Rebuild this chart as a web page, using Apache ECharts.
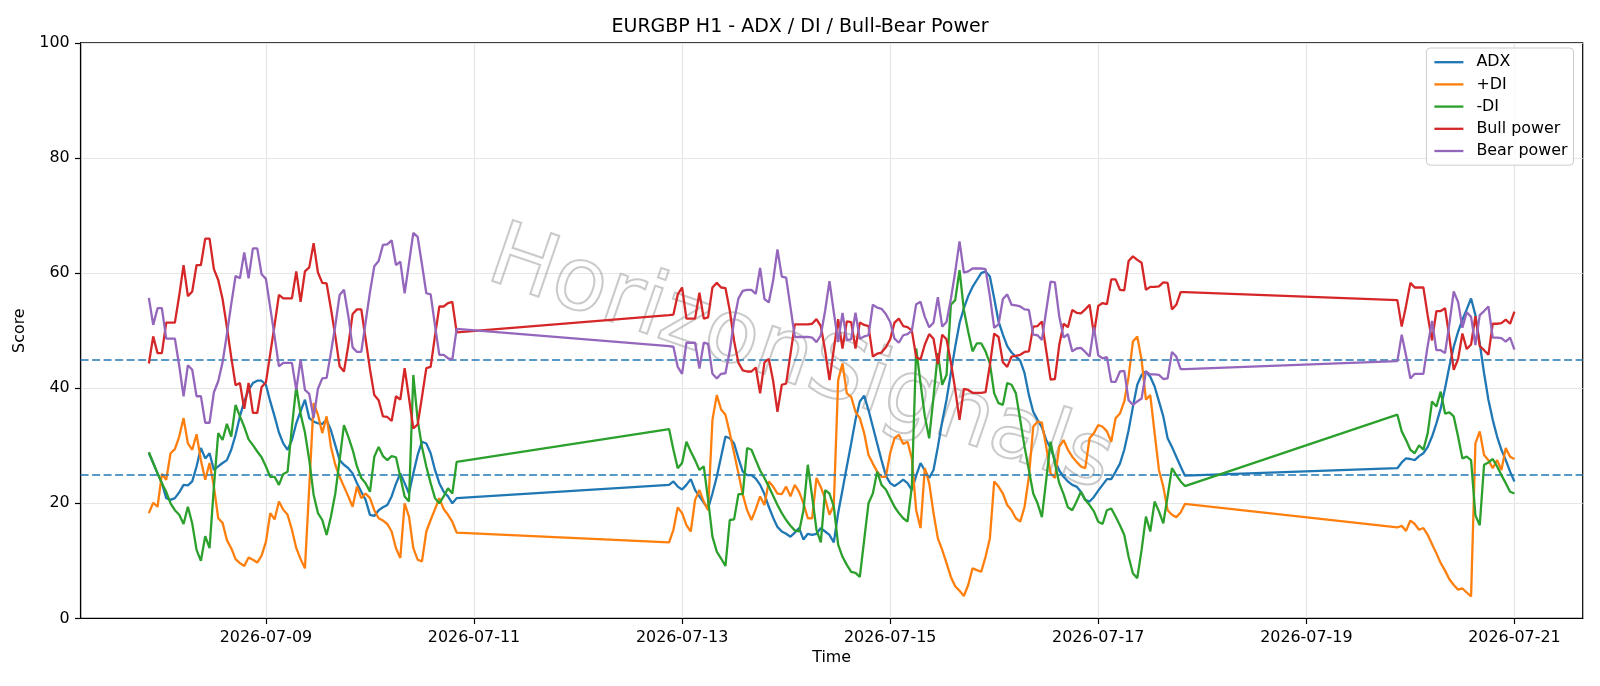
<!DOCTYPE html>
<html><head><meta charset="utf-8">
<script src="https://cdn.jsdelivr.net/npm/echarts@6/dist/echarts.min.js"></script>
<style>html,body{margin:0;padding:0;background:#fff}#c{width:1600px;height:686px}</style>
</head><body><div id="c"></div>
<script>
// x positions are hours counted from 2026-07-09 00:00
const tickValues = [0, 48, 96, 144, 192, 240, 288];
const tickLabels = ['2026-07-09', '2026-07-11', '2026-07-13', '2026-07-15', '2026-07-17', '2026-07-19', '2026-07-21'];
const segmentStarts = [-27, 93, 261];   // 07-07 21:00, 07-12 21:00, 07-19 21:00
const segmentLengths = [72, 120, 28];   // hourly bars in each trading block

const adx = [
28.7,27.0,25.2,23.5,20.9,20.6,20.9,21.9,23.2,23.1,23.8,26.4,29.6,27.8,28.7,25.8,26.4,27.0,27.5,29.3,
31.9,35.1,37.7,39.7,40.9,41.3,41.3,40.6,37.7,35.1,32.3,30.4,29.3,31.0,33.9,36.0,38.0,34.8,34.2,33.9,
33.8,34.5,32.7,30.1,27.5,26.7,26.1,25.2,23.5,22.0,20.6,18.0,17.8,18.8,19.3,19.7,21.2,23.4,25.2,23.5,
21.7,25.2,28.4,30.7,30.4,28.7,25.8,23.5,22.0,21.2,20.0,20.9,
23.2,23.8,22.9,22.4,23.2,24.2,22.3,21.2,20.1,19.1,21.7,24.6,28.1,31.6,31.3,30.4,27.8,25.5,24.9,24.9,
24.3,23.2,21.6,19.4,17.5,15.9,15.1,14.7,14.2,14.9,15.7,13.7,14.7,14.5,14.7,15.7,15.1,14.5,13.2,18.3,
22.3,26.4,30.4,34.5,37.7,38.7,36.2,33.3,30.4,27.5,24.8,23.5,23.0,23.5,24.1,23.5,22.3,24.8,27.0,25.7,
24.4,25.8,29.8,34.2,38.0,42.6,47.2,51.3,53.9,56.0,57.6,58.8,60.0,60.3,59.4,55.6,51.6,49.3,47.3,46.2,
45.5,44.8,42.6,38.8,35.9,34.5,33.2,31.0,29.6,27.5,25.7,24.6,23.8,23.2,22.9,22.0,20.6,20.3,21.1,22.2,
23.2,24.2,24.2,25.5,26.9,29.3,32.7,36.8,40.6,42.3,42.9,42.0,40.3,37.7,35.1,31.3,29.8,28.1,26.4,24.8,
26.1,27.1,27.8,27.7,27.5,28.2,28.7,29.8,31.6,33.9,36.5,40.0,43.8,47.2,49.8,51.9,53.7,55.6,52.7,47.8,
42.6,38.0,34.5,31.6,29.3,27.5,25.5,23.8
];
const plusDI = [
18.3,20.1,19.4,25.1,24.1,28.7,29.4,31.6,34.8,30.4,29.3,32.0,27.5,24.1,27.0,22.9,17.4,16.6,13.6,12.2,
10.3,9.6,9.1,10.6,10.2,9.7,10.9,13.3,18.3,17.2,20.3,18.9,18.0,15.4,12.2,10.3,8.7,22.9,37.4,35.4,
32.2,35.1,29.8,26.7,24.6,22.9,21.2,19.4,22.9,20.9,21.7,20.9,18.8,17.4,17.0,16.4,15.1,12.2,10.5,20.0,
17.7,12.2,10.2,9.9,15.1,17.1,19.0,20.9,19.0,18.0,16.8,14.9,
13.2,15.4,19.3,18.3,16.2,15.1,20.6,22.3,20.3,18.8,34.5,38.8,36.3,35.4,32.2,28.7,25.2,21.5,18.8,17.1,
19.0,21.2,19.7,23.8,22.9,21.7,21.6,22.9,21.2,23.2,22.0,20.0,17.4,17.4,24.4,22.8,20.8,18.0,19.7,41.4,
44.3,39.1,38.5,35.9,34.8,32.2,28.4,26.9,25.5,24.6,24.6,28.7,31.3,31.9,30.3,30.7,27.8,18.8,15.7,26.1,
23.5,18.3,13.9,11.9,9.6,7.2,5.6,4.8,3.9,5.8,8.7,8.4,8.1,10.7,13.9,23.8,22.9,21.7,19.7,18.8,
17.4,16.8,19.4,24.6,33.3,34.2,34.0,29.8,25.2,24.4,29.8,31.0,29.3,28.1,27.2,26.4,26.1,31.3,32.2,33.6,
33.3,32.5,30.7,34.8,35.6,37.7,42.0,48.1,49.0,44.9,38.0,38.8,32.2,25.8,22.9,18.8,18.0,17.6,18.4,19.9,
15.8,16.1,15.2,17.0,16.4,15.4,15.7,14.5,12.9,11.3,9.6,8.3,6.8,5.8,5.0,5.2,4.5,3.8,30.4,32.5,
28.4,27.5,26.1,27.5,25.8,29.6,28.1,27.7
];
const minusDI = [
28.9,27.0,25.2,23.5,22.0,20.0,18.8,18.0,16.4,19.4,16.5,11.9,10.0,14.3,12.2,22.9,32.2,31.0,33.8,31.6,
37.1,35.1,33.3,31.1,30.1,29.0,28.0,26.4,24.6,24.6,23.2,25.1,25.5,33.3,40.3,35.5,32.3,27.5,21.5,18.3,
17.1,14.5,17.7,21.7,27.5,33.6,31.6,29.3,26.4,24.4,23.5,22.0,28.1,29.8,28.2,27.5,28.2,28.0,24.6,21.2,
20.3,42.3,34.5,29.8,26.4,23.5,20.9,20.0,21.2,22.6,21.7,27.2,
32.9,29.3,26.1,27.0,30.7,29.0,27.5,25.8,26.4,20.6,14.2,11.6,10.4,9.1,17.1,17.2,21.6,21.6,29.6,29.3,
27.5,25.7,24.4,22.9,21.3,19.7,18.3,17.1,16.1,15.3,15.1,18.8,26.7,21.2,15.4,13.2,22.3,21.7,19.4,12.8,
10.7,9.3,8.1,7.9,7.2,13.6,20.0,21.7,25.5,23.2,22.4,20.9,19.4,18.3,17.4,16.8,22.9,46.9,40.9,35.1,
31.3,38.5,46.1,40.6,42.3,54.5,55.3,60.5,53.6,49.8,46.4,47.8,47.8,46.4,44.3,39.1,37.4,37.1,40.9,40.6,
39.1,34.5,29.8,25.8,21.7,20.0,17.6,24.1,30.7,26.9,23.5,21.6,19.3,18.8,20.3,22.0,20.6,19.7,18.6,16.8,
16.4,18.8,19.1,17.7,16.2,14.5,10.7,7.8,7.0,11.9,17.7,15.1,20.3,18.6,16.5,21.2,26.1,24.9,23.8,23.0,
35.4,32.5,31.0,29.3,28.7,30.1,29.3,32.2,37.7,36.8,39.4,35.6,35.8,35.1,31.6,27.8,28.1,27.5,17.9,16.2,
26.7,27.1,27.7,26.4,24.9,23.5,22.0,21.7
];
const bullPower = [
44.3,49.0,46.1,46.1,51.4,51.4,51.4,56.1,61.4,56.0,56.8,61.4,61.4,66.0,66.0,60.7,58.8,55.5,50.6,45.4,
40.5,40.9,36.4,40.9,35.7,35.7,40.2,41.0,46.0,51.0,56.2,55.6,55.6,55.6,60.3,55.0,60.3,61.0,65.2,60.1,
58.3,58.2,53.8,49.1,43.8,42.9,47.4,52.9,53.7,53.7,48.5,43.3,38.8,37.9,35.1,35.0,34.3,38.6,38.0,43.5,
38.3,33.0,33.7,38.5,43.5,43.7,49.1,54.2,54.2,54.8,55.0,49.7,
52.7,52.8,56.3,57.5,52.1,52.1,52.1,56.6,52.1,52.3,57.5,58.3,57.5,57.4,53.5,48.2,44.4,43.1,42.9,42.9,
43.6,39.1,44.5,45.1,41.3,35.9,40.6,40.8,45.9,51.1,51.1,51.1,51.1,51.2,52.0,50.8,46.5,41.4,46.8,52.0,
46.9,51.6,51.5,46.9,51.4,51.0,50.8,45.5,46.0,46.2,47.1,48.5,51.4,52.1,50.8,50.6,50.0,45.4,45.0,47.6,
49.4,48.6,44.2,49.3,48.5,44.5,39.8,34.5,39.9,39.7,39.2,39.2,39.2,39.3,44.0,49.5,48.9,44.5,43.7,45.5,
45.6,45.8,46.3,46.4,50.7,50.8,51.6,46.5,41.5,41.6,47.5,51.2,50.6,53.6,53.1,53.0,53.7,54.5,49.4,54.3,
54.8,54.6,58.9,58.9,57.1,57.0,62.1,62.9,62.3,61.8,57.1,57.6,57.6,57.7,58.4,58.3,53.7,54.5,56.7,56.7,
55.3,50.7,54.3,58.3,57.5,57.5,57.5,52.6,48.3,53.4,53.4,53.9,48.8,43.2,45.0,49.5,46.8,47.6,52.5,47.3,
46.6,45.8,51.2,51.2,51.3,51.9,51.2,53.3
];
const bearPower = [
55.7,51.0,53.9,53.9,48.6,48.6,48.6,43.9,38.6,44.0,43.2,38.6,38.6,34.0,34.0,39.3,41.2,44.5,49.4,54.6,
59.5,59.1,63.6,59.1,64.3,64.3,59.8,59.0,54.0,49.0,43.8,44.4,44.4,44.4,39.7,45.0,39.7,39.0,34.8,39.9,
41.7,41.8,46.2,50.9,56.2,57.1,52.6,47.1,46.3,46.3,51.5,56.7,61.2,62.1,64.9,65.0,65.7,61.4,62.0,56.5,
61.7,67.0,66.3,61.5,56.5,56.3,50.9,45.8,45.8,45.2,45.0,50.3,
47.3,47.2,43.7,42.5,47.9,47.9,47.9,43.4,47.9,47.7,42.5,41.7,42.5,42.6,46.5,51.8,55.6,56.9,57.1,57.1,
56.4,60.9,55.5,54.9,58.7,64.1,59.4,59.2,54.1,48.9,48.9,48.9,48.9,48.8,48.0,49.2,53.5,58.6,53.2,48.0,
53.1,48.4,48.5,53.1,48.6,49.0,49.2,54.5,54.0,53.8,52.9,51.5,48.6,47.9,49.2,49.4,50.0,54.6,55.0,52.4,
50.6,51.4,55.8,50.7,51.5,55.5,60.2,65.5,60.1,60.3,60.8,60.8,60.8,60.7,56.0,50.5,51.1,55.5,56.3,54.5,
54.4,54.2,53.7,53.6,49.3,49.2,48.4,53.5,58.5,58.4,52.5,48.8,49.4,46.4,46.9,47.0,46.3,45.5,50.6,45.7,
45.2,45.4,41.1,41.1,42.9,43.0,37.9,37.1,37.7,38.2,42.9,42.4,42.4,42.3,41.6,41.7,46.3,45.5,43.3,43.3,
44.7,49.3,45.7,41.7,42.5,42.5,42.5,47.4,51.7,46.6,46.6,46.1,51.2,56.8,55.0,50.5,53.2,52.4,47.5,52.7,
53.4,54.2,48.8,48.8,48.7,48.1,48.8,46.7
];
const seriesNames = ['ADX', '+DI', '-DI', 'Bull power', 'Bear power'];
const seriesColors = ['#1f77b4', '#ff7f0e', '#2ca02c', '#d62728', '#9467bd'];
const thresholdLevels = [45, 25];

const hours = [];
segmentStarts.forEach((s, si) => { for (let i = 0; i < segmentLengths[si]; i++) hours.push(s + i); });
const pair = arr => arr.map((v, i) => [hours[i], v]);
const allValues = [adx, plusDI, minusDI, bullPower, bearPower];

const FONT = 'DejaVu Sans';
const series = allValues.map((vals, i) => ({
  name: seriesNames[i], type: 'line', data: pair(vals), symbol: 'none', showSymbol: false,
  lineStyle: { width: 2.3, color: seriesColors[i] }, itemStyle: { color: seriesColors[i] },
  z: 3 + i, emphasis: { disabled: true }
}));
series[0].markLine = {
  silent: true, symbol: 'none', label: { show: false },
  lineStyle: { color: '#1f77b4', type: [8, 3.5], width: 1.5 },
  data: thresholdLevels.map(v => ({ yAxis: v }))
};

const chart = echarts.init(document.getElementById('c'), null, { renderer: 'canvas' });
chart.setOption({
  animation: false,
  backgroundColor: '#fff',
  textStyle: { fontFamily: FONT },
  title: {
    text: 'EURGBP H1 - ADX / DI / Bull-Bear Power', left: 'center', top: 11,
    textStyle: { fontFamily: FONT, fontSize: 19, fontWeight: 'normal', color: '#000', lineHeight: 22 }
  },
  grid: { left: 80.6, right: 17.3, top: 42.9, bottom: 67.6, containLabel: false,
          show: true, borderColor: '#000', borderWidth: 1.2, backgroundColor: 'transparent' },
  legend: {
    orient: 'vertical', right: 26.5, top: 48,
    icon: 'path://M0,0H100V8H0Z', itemWidth: 29, itemHeight: 14, itemGap: 6.2,
    padding: [6.2, 6, 6.2, 8],
    backgroundColor: 'rgba(255,255,255,0.8)', borderColor: '#cccccc', borderWidth: 1, borderRadius: 4,
    itemStyle: { borderWidth: 0 },
    textStyle: { fontFamily: FONT, fontSize: 15.9, color: '#000', lineHeight: 16, padding: [0, 0, 0, 8] },
    data: seriesNames
  },
  graphic: [{
    type: 'text', x: 800, y: 362, rotation: -0.33, silent: true, z: 1,
    style: { text: 'HorizonSignals', font: '88px "DejaVu Sans"', fill: 'rgba(0,0,0,0)',
             stroke: 'rgba(150,150,150,0.5)', lineWidth: 2, align: 'center', verticalAlign: 'middle' }
  }],
  xAxis: {
    type: 'value', min: -42.75, max: 303.75,
    name: 'Time', nameLocation: 'middle', nameGap: 28,
    nameTextStyle: { fontFamily: FONT, fontSize: 15.9, color: '#000' },
    axisLine: { show: true, onZero: false, lineStyle: { color: '#000', width: 1.2 } },
    axisTick: { show: true, inside: false, length: 5.6, lineStyle: { color: '#000', width: 1.2 }, customValues: tickValues },
    axisLabel: { show: true, margin: 11, fontFamily: FONT, fontSize: 15.9, color: '#000', customValues: tickValues,
                 formatter: v => tickLabels[Math.round(v / 48)] },
    splitLine: { show: true, lineStyle: { color: '#e6e6e6', width: 1.2 } }
  },
  yAxis: {
    type: 'value', min: 0, max: 100, interval: 20,
    name: 'Score', nameLocation: 'middle', nameGap: 47,
    nameTextStyle: { fontFamily: FONT, fontSize: 15.9, color: '#000' },
    axisLine: { show: true, onZero: false, lineStyle: { color: '#000', width: 1.2 } },
    axisTick: { show: true, inside: false, length: 5.6, lineStyle: { color: '#000', width: 1.2 } },
    axisLabel: { margin: 11, fontFamily: FONT, fontSize: 15.9, color: '#000', showMinLabel: true, showMaxLabel: true },
    splitLine: { show: true, lineStyle: { color: '#e6e6e6', width: 1.2 } }
  },
  series: series
});
</script>
</body></html>
